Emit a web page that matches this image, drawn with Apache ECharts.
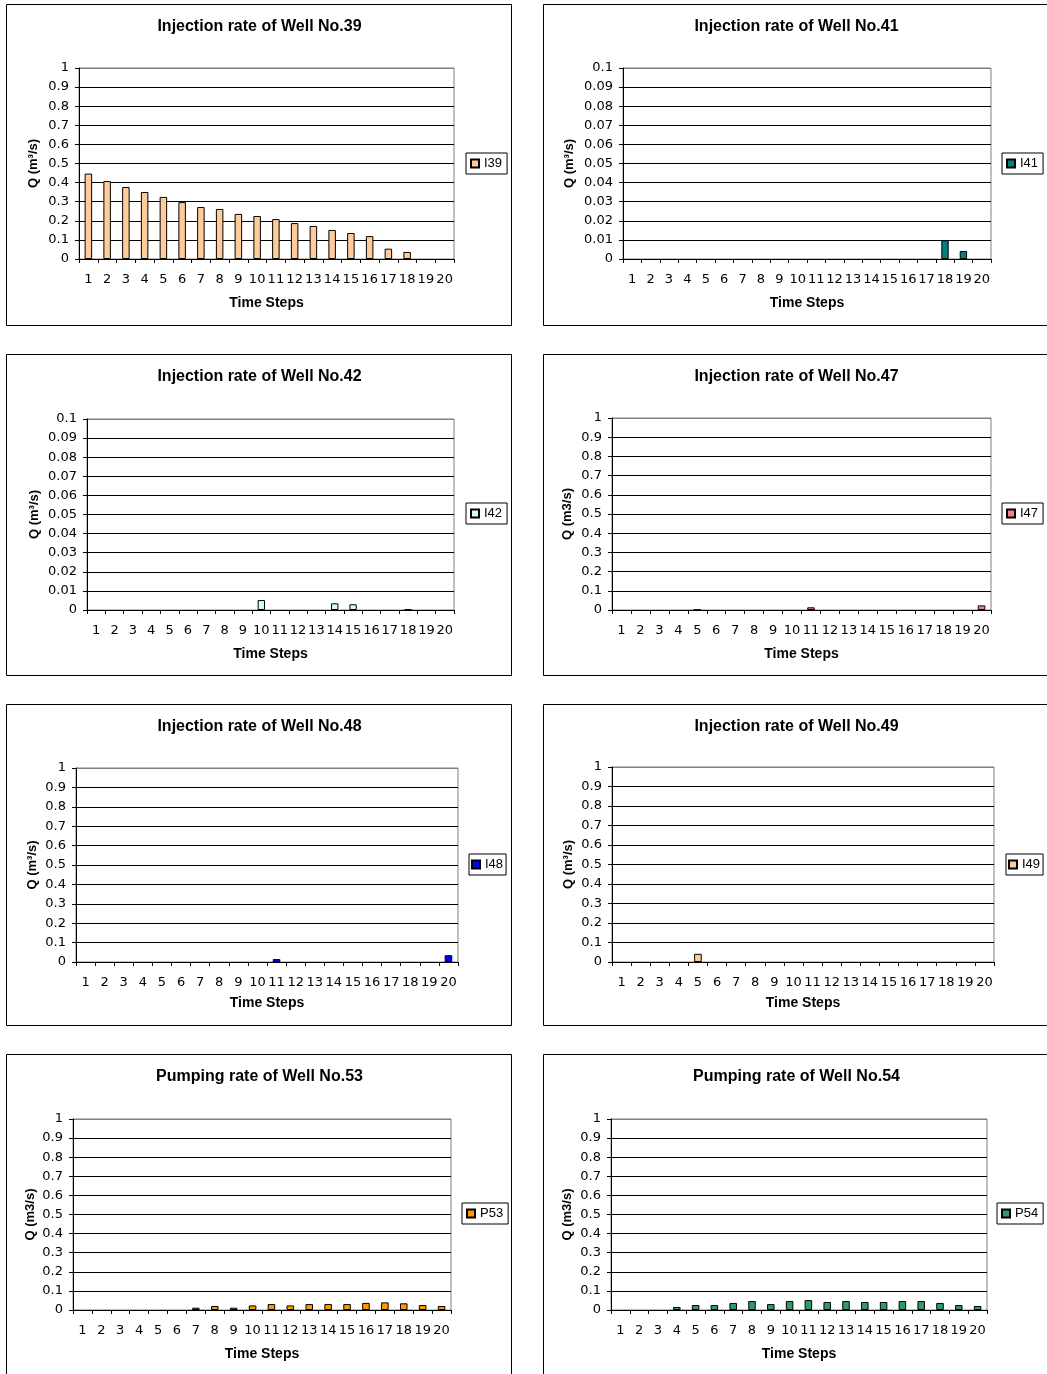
<!DOCTYPE html>
<html>
<head>
<meta charset="utf-8">
<script src="https://cdn.jsdelivr.net/npm/echarts@6/dist/echarts.min.js"></script>
<style>
  html, body { margin: 0; padding: 0; background: #fff; }
  #chart { width: 1047px; height: 1374px; }
</style>
</head>
<body>
<div id="chart"></div>
<script>
// Time step categories (x axis tick labels)
const steps = ['1', '2', '3', '4', '5', '6', '7', '8', '9', '10',
               '11', '12', '13', '14', '15', '16', '17', '18', '19', '20'];

// Well rates, m3/s, one value per time step
const i39 = [0.447, 0.408, 0.377, 0.351, 0.325, 0.298, 0.272, 0.262, 0.236, 0.225,
             0.209, 0.188, 0.173, 0.152, 0.136, 0.120, 0.054, 0.037, 0, 0];
const i41 = [0, 0, 0, 0, 0, 0, 0, 0, 0, 0,
             0, 0, 0, 0, 0, 0, 0, 0.0098, 0.0042, 0];
const i42 = [0, 0, 0, 0, 0, 0, 0, 0, 0, 0.0052,
             0, 0, 0, 0.0035, 0.003, 0, 0, 0.0003, 0, 0];
const i47 = [0, 0, 0, 0, 0.001, 0, 0, 0, 0, 0,
             0.014, 0, 0, 0, 0, 0, 0, 0, 0, 0.024];
const i48 = [0, 0, 0, 0, 0, 0, 0, 0, 0, 0,
             0.015, 0, 0, 0, 0, 0, 0, 0, 0, 0.035];
const i49 = [0, 0, 0, 0, 0.042, 0, 0, 0, 0, 0,
             0, 0, 0, 0, 0, 0, 0, 0, 0, 0];
const p53 = [0, 0, 0, 0, 0, 0, 0.012, 0.021, 0.012, 0.024,
             0.031, 0.024, 0.031, 0.031, 0.031, 0.037, 0.040, 0.035, 0.026, 0.021];
const p54 = [0, 0, 0, 0.016, 0.026, 0.026, 0.037, 0.047, 0.031, 0.047,
             0.052, 0.042, 0.047, 0.042, 0.042, 0.047, 0.047, 0.037, 0.026, 0.021];

// Chart titles, legend names and y-axis titles
const titles = ['Injection rate of Well No.39', 'Injection rate of Well No.41',
                'Injection rate of Well No.42', 'Injection rate of Well No.47',
                'Injection rate of Well No.48', 'Injection rate of Well No.49',
                'Pumping rate of Well No.53', 'Pumping rate of Well No.54'];
const names = ['I39', 'I41', 'I42', 'I47', 'I48', 'I49', 'P53', 'P54'];
const yTitles = ['Q (m³/s)', 'Q (m³/s)', 'Q (m³/s)', 'Q (m3/s)',
                 'Q (m³/s)', 'Q (m³/s)', 'Q (m3/s)', 'Q (m3/s)'];
const yMax = [1, 0.1, 0.1, 1, 1, 1, 1, 1];
const yStep = [0.1, 0.01, 0.01, 0.1, 0.1, 0.1, 0.1, 0.1];
const values = [i39, i41, i42, i47, i48, i49, p53, p54];

// Panel layout: frame, plot area, legend box, axis title gaps
const colors = ['#FFCC99', '#008080', '#CCFFFF', '#FF8080', '#0000FF', '#FFCC99', '#FF9900', '#339966'];
const panels = [
  { fx: 6.5,   fy: 4.5,    fw: 505, fh: 321, gx: 79,  gy: 68,   gw: 375, gh: 191, lx: 466,  ly: 153,  lp: 5, yGap: 39, xGap: 37 },
  { fx: 543.5, fy: 4.5,    fw: 510, fh: 321, gx: 623, gy: 68,   gw: 368, gh: 191, lx: 1002, ly: 153,  lp: 5, yGap: 47, xGap: 37 },
  { fx: 6.5,   fy: 354.5,  fw: 505, fh: 321, gx: 87,  gy: 419,  gw: 367, gh: 191, lx: 466,  ly: 503,  lp: 5, yGap: 46, xGap: 37 },
  { fx: 543.5, fy: 354.5,  fw: 510, fh: 321, gx: 612, gy: 418,  gw: 379, gh: 192, lx: 1002, ly: 503,  lp: 5, yGap: 38, xGap: 37 },
  { fx: 6.5,   fy: 704.5,  fw: 505, fh: 321, gx: 76,  gy: 768,  gw: 382, gh: 194, lx: 469,  ly: 854,  lp: 3, yGap: 37, xGap: 34 },
  { fx: 543.5, fy: 704.5,  fw: 510, fh: 321, gx: 612, gy: 767,  gw: 382, gh: 195, lx: 1006, ly: 854,  lp: 3, yGap: 37, xGap: 34 },
  { fx: 6.5,   fy: 1054.5, fw: 505, fh: 400, gx: 73,  gy: 1119, gw: 378, gh: 191, lx: 462,  ly: 1203, lp: 5, yGap: 36, xGap: 37 },
  { fx: 543.5, fy: 1054.5, fw: 510, fh: 400, gx: 611, gy: 1119, gw: 376, gh: 191, lx: 997,  ly: 1203, lp: 5, yGap: 37, xGap: 37 }
];

const boldFont = { fontFamily: 'Liberation Sans', fontWeight: 'bold', color: '#000' };
const tickFont = { fontFamily: 'DejaVu Sans', fontSize: 13, color: '#000' };
const legendFont = { fontFamily: 'Liberation Sans', fontSize: 13, color: '#000' };

function gridLineColors(max, step) {
  const n = Math.round(max / step) + 1;
  const arr = [];
  for (let k = 0; k < n; k++) arr.push(k === n - 1 ? '#808080' : '#000000');
  return arr;
}

const option = {
  animation: false,
  backgroundColor: '#fff',
  title: panels.map((p, i) => ({
    text: titles[i],
    left: p.fx + 253,
    top: p.fy + 14,
    textAlign: 'center',
    padding: 0,
    textStyle: Object.assign({ fontSize: 16 }, boldFont)
  })),
  legend: panels.map((p, i) => ({
    data: [names[i]],
    left: p.lx,
    top: p.ly,
    orient: 'vertical',
    icon: 'rect',
    itemWidth: 8,
    itemHeight: 8,
    padding: [4, p.lp, 4, p.lp - 1],
    borderColor: '#000',
    borderWidth: 1,
    selectedMode: false,
    textStyle: legendFont
  })),
  grid: panels.map(p => ({
    left: p.gx, top: p.gy, width: p.gw, height: p.gh,
    show: true, borderColor: '#808080', borderWidth: 1, backgroundColor: 'transparent',
    containLabel: false
  })),
  xAxis: panels.map((p, i) => ({
    type: 'category',
    gridIndex: i,
    data: steps,
    name: 'Time Steps',
    nameLocation: 'middle',
    nameGap: p.xGap,
    nameTextStyle: Object.assign({ fontSize: 14 }, boldFont),
    axisLine: { show: true, lineStyle: { color: '#000', width: 1 } },
    axisTick: { show: true, length: 4, lineStyle: { color: '#000' } },
    axisLabel: Object.assign({ interval: 0, margin: 14 }, tickFont),
    splitLine: { show: false }
  })),
  yAxis: panels.map((p, i) => ({
    type: 'value',
    gridIndex: i,
    min: 0,
    max: yMax[i],
    interval: yStep[i],
    name: yTitles[i],
    nameLocation: 'middle',
    nameGap: p.yGap,
    nameTextStyle: Object.assign({ fontSize: 13 }, boldFont),
    axisLine: { show: true, lineStyle: { color: '#000', width: 1 } },
    axisTick: { show: true, length: 4, lineStyle: { color: '#000' } },
    axisLabel: Object.assign({ margin: 10 }, tickFont),
    splitLine: { show: true, lineStyle: { color: gridLineColors(yMax[i], yStep[i]), width: 1 } }
  })),
  series: panels.map((p, i) => ({
    type: 'bar',
    name: names[i],
    xAxisIndex: i,
    yAxisIndex: i,
    // zero-rate steps draw no bar
    data: values[i].map(v => (v === 0 ? null : v)),
    barWidth: '40%',
    itemStyle: { color: colors[i], borderColor: '#000', borderWidth: 1 }
  })),
  graphic: panels.map(p => ({
    type: 'rect',
    silent: true,
    z: -10,
    shape: { x: p.fx, y: p.fy, width: p.fw, height: p.fh },
    style: { fill: 'none', stroke: '#000', lineWidth: 1 }
  }))
};

const chart = echarts.init(document.getElementById('chart'), null, { renderer: 'canvas' });
chart.setOption(option);
</script>
</body>
</html>
